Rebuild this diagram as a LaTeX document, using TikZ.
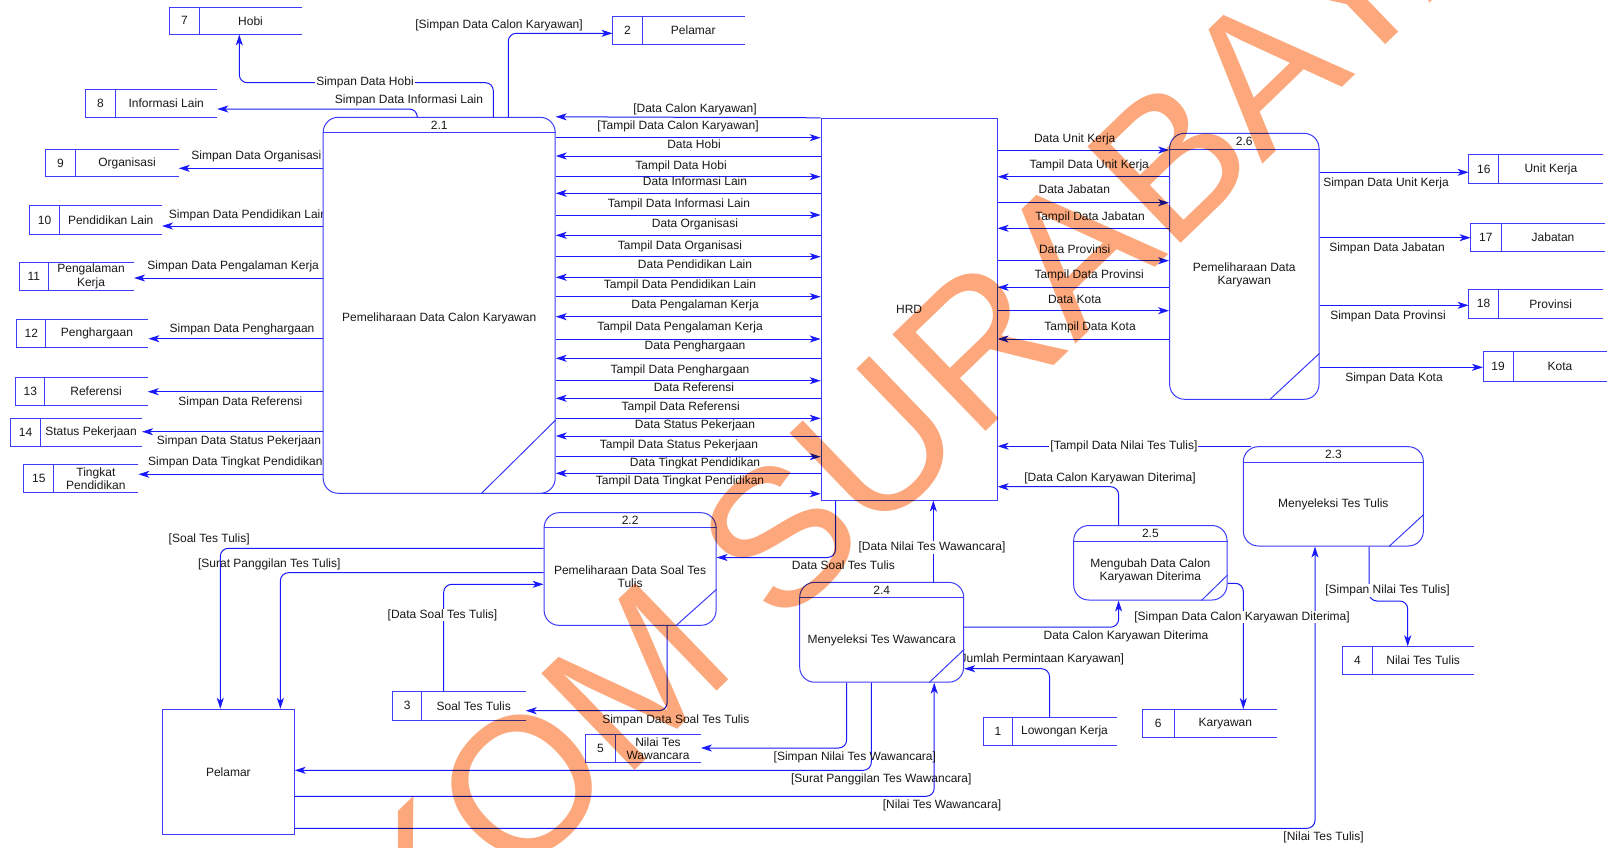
\documentclass[tikz,border=0pt]{standalone}
\usepackage{fontspec}
\setmainfont{Liberation Sans}
\usetikzlibrary{arrows.meta,calc}
\definecolor{lnblue}{RGB}{25,25,250}
\definecolor{bxblue}{RGB}{60,60,250}
\definecolor{wmark}{RGB}{252,168,124}
\definecolor{txt}{RGB}{25,25,25}
\pgfdeclarelayer{lines}
\pgfdeclarelayer{labels}
\pgfdeclarelayer{marks}
\pgfsetlayers{lines,labels,main,marks}
\tikzset{
  flow/.style={draw=lnblue, line width=1pt, rounded corners=8pt, -{Stealth[length=11pt,width=7pt,inset=3pt]}},
  box/.style={draw=bxblue, line width=1pt, fill=white, text=txt, font=\fontsize{12}{13.5}\selectfont},
  proc/.style={box, rounded corners=15pt, inner sep=0pt},
  lbl/.style={text=txt, inner sep=1pt, text height=8.5pt, text depth=2pt, font=\fontsize{12}{13.5}\selectfont},
  lblw/.style={lbl, fill=white},
  txtn/.style={text=txt, inner sep=0pt, align=center, font=\fontsize{12}{13.5}\selectfont},
  stl/.style={draw=bxblue, line width=1pt},
}
\newcommand\dstore[8]{%
  \node[inner sep=0pt, minimum width={#4-#2}, minimum height={#6-#5}] (#1) at ({(#2+#4)/2},{(#5+#6)/2}) {};
  \draw[stl] (#1.north east) -- (#1.north west) -- (#1.south west) -- (#1.south east);
  \draw[stl] (#3,0 |- #1.north) -- (#3,0 |- #1.south);
  \node[txtn] (#1n) at ({(#2+#3)/2},{(#5+#6)/2}) {#7};
  \node[txtn] (#1t) at ({(#3+#4)/2},{(#5+#6)/2}) {#8};
}
\newcommand\dproc[9]{%
  \node[proc, minimum width={#4-#2}, minimum height={#5-#3}] (#1) at ({(#2+#4)/2},{(#3+#5)/2}) {};
  \draw[stl] (#1.west |- 0,#6) -- (#1.east |- 0,#6);
  \node[txtn] (#1n) at ({(#2+#4)/2},{(#3+#6)/2+0.5}) {#7};
  \node[txtn] (#1t) at ({(#2+#4)/2},#9) {#8};
}
\begin{document}
\begin{tikzpicture}[x=1pt,y=-1pt]
\useasboundingbox (0,0) rectangle (1607,847);

% ---------- processes ----------
\dproc{p21}{323.2}{117.3}{555.2}{493.3}{132.3}{2.1}{Pemeliharaan Data Calon Karyawan}{318}
\dproc{p22}{544.1}{512.7}{716.1}{625.3}{527.3}{2.2}{Pemeliharaan Data Soal Tes\\Tulis}{576.7}
\dproc{p23}{1243.3}{446.7}{1423.4}{546}{462}{2.3}{Menyeleksi Tes Tulis}{504.3}
\dproc{p24}{799.7}{582.3}{963.7}{682.2}{597.7}{2.4}{Menyeleksi Tes Wawancara}{640.3}
\dproc{p25}{1073.7}{525.5}{1227}{600}{541}{2.5}{Mengubah Data Calon\\Karyawan Diterima}{570.7}
\dproc{p26}{1169.6}{133.3}{1319}{399.3}{149.3}{2.6}{Pemeliharaan Data\\Karyawan}{274.7}
\draw[stl] (p21.east |- 0,420) -- (481,0 |- p21.south);
\draw[stl] (p22.east |- 0,589.3) -- (675.8,0 |- p22.south);
\draw[stl] (p23.east |- 0,514.3) -- (1389,0 |- p23.south);
\draw[stl] (p24.east |- 0,649.3) -- (929,0 |- p24.south);
\draw[stl] (p25.east |- 0,575) -- (1201.4,0 |- p25.south);
\draw[stl] (p26.east |- 0,353.3) -- (1269.5,0 |- p26.south);

% ---------- entities ----------
\node[box, inner sep=0pt, minimum width=175.9, minimum height=381.7] (hrd) at (909.15,309.15) {HRD};
\node[box, inner sep=0pt, minimum width=131.7, minimum height=125] (pel) at (228.35,771.8) {Pelamar};

% ---------- data stores ----------
\dstore{s7}{169.6}{199.3}{301.8}{7.3}{34.3}{7}{Hobi}
\dstore{s8}{85.7}{115.4}{217.1}{89.3}{117.7}{8}{Informasi Lain}
\dstore{s9}{45.7}{75.4}{178.6}{149.3}{176.7}{9}{Organisasi}
\dstore{s10}{29.6}{59.6}{161.8}{206}{234}{10}{Pendidikan Lain}
\dstore{s11}{19.6}{48.2}{133.9}{262.3}{290.7}{11}{Pengalaman\\Kerja}
\dstore{s12}{17.1}{45.7}{148.2}{320}{347.3}{12}{Penghargaan}
\dstore{s13}{16}{44.6}{147.5}{377.3}{405}{13}{Referensi}
\dstore{s14}{10.7}{40.4}{141.8}{419}{446}{14}{Status Pekerjaan}
\dstore{s15}{24}{53.6}{138.2}{465}{492.5}{15}{Tingkat\\Pendidikan}
\dstore{s2}{612.7}{642.3}{744.3}{16.7}{44}{2}{Pelamar}
\dstore{s16}{1468.8}{1498.9}{1602.9}{155}{183.3}{16}{Unit Kerja}
\dstore{s17}{1470.8}{1501}{1605}{223.3}{251.7}{17}{Jabatan}
\dstore{s18}{1468.8}{1498.5}{1603}{289.3}{318.3}{18}{Provinsi}
\dstore{s19}{1483.2}{1513}{1607}{351.7}{381}{19}{Kota}
\dstore{s4}{1342.4}{1372.3}{1474}{646.5}{674}{4}{Nilai Tes Tulis}
\dstore{s6}{1142.3}{1174}{1276.7}{709.3}{737.7}{6}{Karyawan}
\dstore{s1}{983.2}{1012.7}{1116.3}{717.7}{745.7}{1}{Lowongan Kerja}
\dstore{s3}{392.3}{421.9}{525.5}{691.7}{720}{3}{Soal Tes Tulis}
\dstore{s5}{585.6}{615.3}{700.7}{735}{762.3}{5}{Nilai Tes\\Wawancara}

% ---------- connectors ----------
\begin{pgfonlayer}{lines}
\fill[white] (0,0) rectangle (1607,847);
\draw[flow] (493.3,0 |- p21.north) |- (239.3,82.7) -- (239.3,0 |- s7.south);
\draw[flow] (417.3,0 |- p21.north) |- (s8.east |- 0,109);
\draw[flow] (p21.west |- 0,168.3) -- (s9.east |- 0,168.3);
\draw[flow] (p21.west |- 0,226) -- (s10.east |- 0,226);
\draw[flow] (p21.west |- 0,278) -- (s11.east |- 0,278);
\draw[flow] (p21.west |- 0,338.7) -- (s12.east |- 0,338.7);
\draw[flow] (p21.west |- 0,391.7) -- (s13.east |- 0,391.7);
\draw[flow] (p21.west |- 0,431.7) -- (s14.east |- 0,431.7);
\draw[flow] (p21.west |- 0,474.3) -- (s15.east |- 0,474.3);
\draw[flow] (508.3,0 |- p21.north) |- (s2.west |- 0,33.3);
\draw[flow] (hrd.north west) -- (p21.north east);
\foreach \y in {137.7,176.7,215,256.7,296.7,339,380.7,418.3,456.7}
  \draw[flow] (p21.east |- 0,\y) -- (hrd.west |- 0,\y);
\foreach \y in {156,193.3,235.3,277.3,316.7,358.3,398.3,436,473.3}
  \draw[flow] (hrd.west |- 0,\y) -- (p21.east |- 0,\y);
\draw[flow] ([xshift=-18pt]p21.south east) -- (hrd.west |- p21.south);
\foreach \y in {150,202.7,260.7,310.7}
  \draw[flow] (hrd.east |- 0,\y) -- (p26.west |- 0,\y);
\foreach \y in {176.7,228.3,287.3,339}
  \draw[flow] (p26.west |- 0,\y) -- (hrd.east |- 0,\y);
\draw[flow] (p26.east |- 0,172.3) -- (s16.west |- 0,172.3);
\draw[flow] (p26.east |- 0,237.7) -- (s17.west |- 0,237.7);
\draw[flow] (p26.east |- 0,305.3) -- (s18.west |- 0,305.3);
\draw[flow] (p26.east |- 0,367.3) -- (s19.west |- 0,367.3);
\draw[flow] ([xshift=8pt]p23.north west) -- (hrd.east |- p23.north);
\draw[flow] (1369,0 |- p23.south) |- (1407.7,601) -- (1407.7,0 |- s4.north);
\draw[flow] (1118.6,0 |- p25.north) |- (hrd.east |- 0,486.7);
\draw[flow] (p24.east |- 0,627.2) -| (1118.6,0 |- p25.south);
\draw[flow] (p25.east |- 0,583.3) -| (1243.3,0 |- s6.north);
\draw[flow] (933.3,0 |- p24.north) -- (933.3,0 |- hrd.south);
\draw[flow] (1049.5,0 |- s1.north) |- (p24.east |- 0,668.7);
\draw[flow] (846.6,0 |- p24.south) |- (s5.east |- 0,748);
\draw[flow] (871.3,0 |- p24.south) |- (pel.east |- 0,770.3);
\draw[flow] (pel.east |- 0,796.3) -| (934.2,0 |- p24.south);
\draw[flow] (pel.east |- 0,828.3) -| (1315,0 |- p23.south);
\draw[flow] (835.5,0 |- hrd.south) |- (p22.east |- 0,557.5);
\draw[flow] (p22.west |- 0,548.3) -| (220.3,0 |- pel.north);
\draw[flow] (p22.west |- 0,572.7) -| (280.4,0 |- pel.north);
\draw[flow] (443.7,0 |- s3.north) |- (p22.west |- 0,584.3);
\draw[flow] (667.1,0 |- p22.south) |- (s3.east |- 0,710.7);
\end{pgfonlayer}

% ---------- labels ----------
\begin{pgfonlayer}{labels}
\node[lblw] (b1) at (365,82.7) {Simpan Data Hobi};
\node[lbl] (b2) at (409,100) {Simpan Data Informasi Lain};
\node[lbl] (b3) at (256.4,156.7) {Simpan Data Organisasi};
\node[lbl] (b4) at (248,215) {Simpan Data Pendidikan Lain};
\node[lbl] (b5) at (233.2,266.7) {Simpan Data Pengalaman Kerja};
\node[lbl] (b6) at (242,329) {Simpan Data Penghargaan};
\node[lbl] (b7) at (240.4,402.3) {Simpan Data Referensi};
\node[lbl] (b8) at (239,441.7) {Simpan Data Status Pekerjaan};
\node[lbl] (b9) at (235.4,462.7) {Simpan Data Tingkat Pendidikan};
\node[lbl] (b10) at (499,25.7) {[Simpan Data Calon Karyawan]};
\node[lbl] (a0) at (695,109) {[Data Calon Karyawan]};
\node[lbl] (a1) at (678,126.7) {[Tampil Data Calon Karyawan]};
\node[lbl] (a2) at (694,145) {Data Hobi};
\node[lbl] (a3) at (681,166.7) {Tampil Data Hobi};
\node[lbl] (a4) at (695,182.3) {Data Informasi Lain};
\node[lbl] (a5) at (679,204.3) {Tampil Data Informasi Lain};
\node[lbl] (a6) at (695,224.3) {Data Organisasi};
\node[lbl] (a7) at (680,246.7) {Tampil Data Organisasi};
\node[lbl] (a8) at (695,265.7) {Data Pendidikan Lain};
\node[lbl] (a9) at (680,285.7) {Tampil Data Pendidikan Lain};
\node[lbl] (a10) at (695,305.7) {Data Pengalaman Kerja};
\node[lbl] (a11) at (680,327.7) {Tampil Data Pengalaman Kerja};
\node[lbl] (a12) at (695,346.7) {Data Penghargaan};
\node[lbl] (a13) at (680,370) {Tampil Data Penghargaan};
\node[lbl] (a14) at (694,388.7) {Data Referensi};
\node[lbl] (a15) at (680.7,407.3) {Tampil Data Referensi};
\node[lbl] (a16) at (695,425.7) {Data Status Pekerjaan};
\node[lbl] (a17) at (679,445.7) {Tampil Data Status Pekerjaan};
\node[lbl] (a18) at (695,463.3) {Data Tingkat Pendidikan};
\node[lbl] (a19) at (680,481.7) {Tampil Data Tingkat Pendidikan};
\node[lbl] (c1) at (1074.7,139.3) {Data Unit Kerja};
\node[lbl] (c2) at (1089.2,165.7) {Tampil Data Unit Kerja};
\node[lbl] (c3) at (1074.3,190.7) {Data Jabatan};
\node[lbl] (c4) at (1090,217.3) {Tampil Data Jabatan};
\node[lbl] (c5) at (1074.7,250.7) {Data Provinsi};
\node[lbl] (c6) at (1089.2,275) {Tampil Data Provinsi};
\node[lbl] (c7) at (1074.7,300.3) {Data Kota};
\node[lbl] (c8) at (1090,327.7) {Tampil Data Kota};
\node[lbl] (d1) at (1386,183.3) {Simpan Data Unit Kerja};
\node[lbl] (d2) at (1387,248.7) {Simpan Data Jabatan};
\node[lbl] (d3) at (1388,316) {Simpan Data Provinsi};
\node[lbl] (d4) at (1394,378.3) {Simpan Data Kota};
\node[lblw] (e1) at (1123.9,446.7) {[Tampil Data Nilai Tes Tulis]};
\node[lbl] (e2) at (1110,478.3) {[Data Calon Karyawan Diterima]};
\node[lbl] (e3) at (1126,636) {Data Calon Karyawan Diterima};
\node[lblw] (e4) at (1242,617) {[Simpan Data Calon Karyawan Diterima]};
\node[lbl] (e5) at (1040.7,659.3) {[Jumlah Permintaan Karyawan]};
\node[lblw] (e6) at (1387.5,590.7) {[Simpan Nilai Tes Tulis]};
\node[lblw] (e7) at (932,547.7) {[Data Nilai Tes Wawancara]};
\node[lbl] (e8) at (843.4,566.7) {Data Soal Tes Tulis};
\node[lbl] (e9) at (854.8,757.3) {[Simpan Nilai Tes Wawancara]};
\node[lbl] (e10) at (881.3,779.3) {[Surat Panggilan Tes Wawancara]};
\node[lbl] (e11) at (942,805) {[Nilai Tes Wawancara]};
\node[lbl] (e12) at (1323.6,837) {[Nilai Tes Tulis]};
\node[lbl] (e13) at (209.2,539.3) {[Soal Tes Tulis]};
\node[lbl] (e14) at (269.3,564.3) {[Surat Panggilan Tes Tulis]};
\node[lblw] (e15) at (442.5,615) {[Data Soal Tes Tulis]};
\node[lbl] (e16) at (675.8,720) {Simpan Data Soal Tes Tulis};
\end{pgfonlayer}

% ---------- watermark ----------
\begin{pgfonlayer}{marks}
\begin{scope}[blend mode=multiply]
\node[text=wmark, inner sep=0pt, rotate=44, font=\fontsize{195}{195}\selectfont] (wm) at (816,502) {STIKOM SURABAYA};
\end{scope}
\end{pgfonlayer}
\end{tikzpicture}
\end{document}
